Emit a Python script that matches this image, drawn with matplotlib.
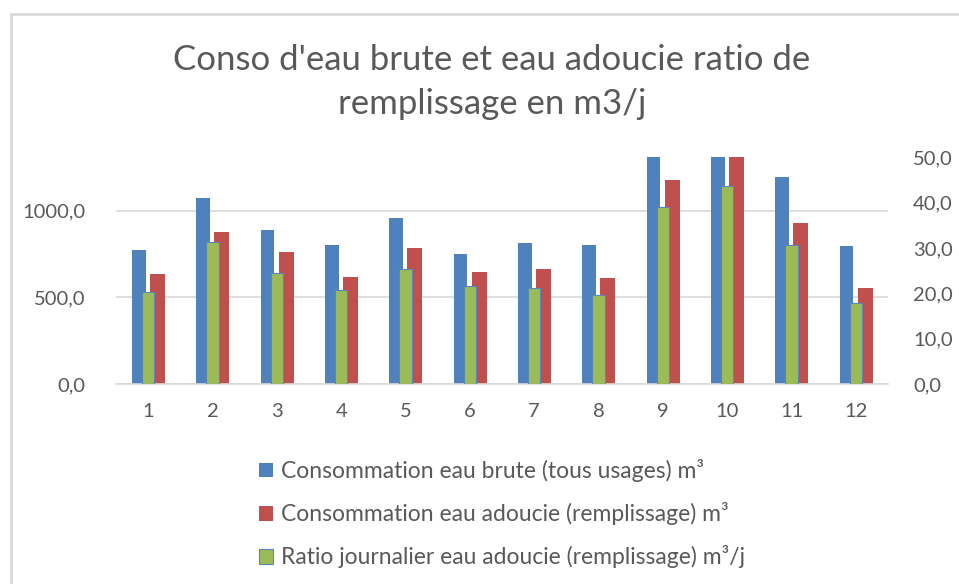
import matplotlib
matplotlib.use("Agg")
import matplotlib.pyplot as plt
import matplotlib.patches as mpatches
from matplotlib.ticker import FuncFormatter
import numpy as np

plt.rcParams["font.family"] = ["Lato", "DejaVu Sans"]

# data (months 1..12)
months = ["1", "2", "3", "4", "5", "6", "7", "8", "9", "10", "11", "12"]
eau_brute = [775, 1071, 886, 803, 960, 751, 811, 803, 1340, 1390, 1195, 796]
eau_adoucie = [634, 879, 759, 618, 782, 647, 663, 613, 1175, 1320, 929, 553]
ratio_jour = [20.2, 31.3, 24.4, 20.7, 25.3, 21.6, 21.3, 19.6, 39.0, 43.6, 30.7, 17.9]

labels = ["Consommation eau brute (tous usages) m³",
          "Consommation eau adoucie (remplissage) m³",
          "Ratio journalier eau adoucie (remplissage) m³/j"]

BLUE, RED, GREEN = "#4F81BD", "#C0504D", "#9BBB59"
GREY_TXT = "#595959"
GRID = "#D9D9D9"

fig = plt.figure(figsize=(9.59, 5.84), dpi=100)
ax = fig.add_axes([116 / 959, 1 - 384 / 584, (888 - 116) / 959, (384 - 157.5) / 584])
ax2 = ax.twinx()

x = np.arange(len(months))
ax.bar(x - 0.145, eau_brute, width=0.21, color=BLUE, zorder=2)
ax.bar(x + 0.145, eau_adoucie, width=0.23, color=RED, zorder=2)
ax2.bar(x, ratio_jour, width=0.19, color=GREEN, edgecolor="#5B86B8", linewidth=0.8, zorder=3)

ax.set_xlim(-0.5, len(months) - 0.5)
ax.set_ylim(0, 1306)
ax2.set_ylim(0, 50)
ax.set_yticks([0, 500, 1000])
ax2.set_yticks([0, 10, 20, 30, 40, 50])
fmt = FuncFormatter(lambda v, p: f"{v:.1f}".replace(".", ","))
ax.yaxis.set_major_formatter(fmt)
ax2.yaxis.set_major_formatter(fmt)
ax.set_xticks(x)
ax.set_xticklabels(months)

# Excel-like look: only horizontal grid, no spines except the baseline
ax.yaxis.grid(True, color=GRID, linewidth=1.2, zorder=0)
ax.set_axisbelow(True)
for a in (ax, ax2):
    for s in a.spines.values():
        s.set_visible(False)
ax.spines["bottom"].set_visible(True)
ax.spines["bottom"].set_color(GRID)
ax.spines["bottom"].set_linewidth(1.2)
ax.tick_params(axis="both", length=0, labelsize=14.5, colors=GREY_TXT)
ax.tick_params(axis="y", pad=22)
ax.tick_params(axis="x", pad=14)
ax2.tick_params(axis="y", length=0, labelsize=14.5, colors=GREY_TXT, pad=18)

fig.text(0.513, 1 - 82 / 584, "Conso d'eau brute et eau adoucie ratio de\nremplissage en m3/j",
         ha="center", va="center", fontsize=25, color=GREY_TXT,
         linespacing=1.45)

handles = [mpatches.Patch(facecolor=BLUE), mpatches.Patch(facecolor=RED),
           mpatches.Patch(facecolor=GREEN, edgecolor="#5B86B8", linewidth=0.8)]
leg = fig.legend(handles, labels, loc="upper left", bbox_to_anchor=(250 / 959, 1 - 450 / 584),
                 frameon=False, fontsize=16.5, handlelength=0.6, handleheight=0.6,
                 handletextpad=0.35, labelspacing=0.88, borderaxespad=0)
for t in leg.get_texts():
    t.set_color(GREY_TXT)

# light grey chart frame (top and left edges visible in the screenshot)
fig.patches.append(mpatches.Rectangle((10.5 / 959, -0.1), 1.2, 1.1 - 14.5 / 584, fill=False,
                                      edgecolor=GRID, linewidth=2, transform=fig.transFigure,
                                      figure=fig))

fig.savefig("out.png", dpi=100)
